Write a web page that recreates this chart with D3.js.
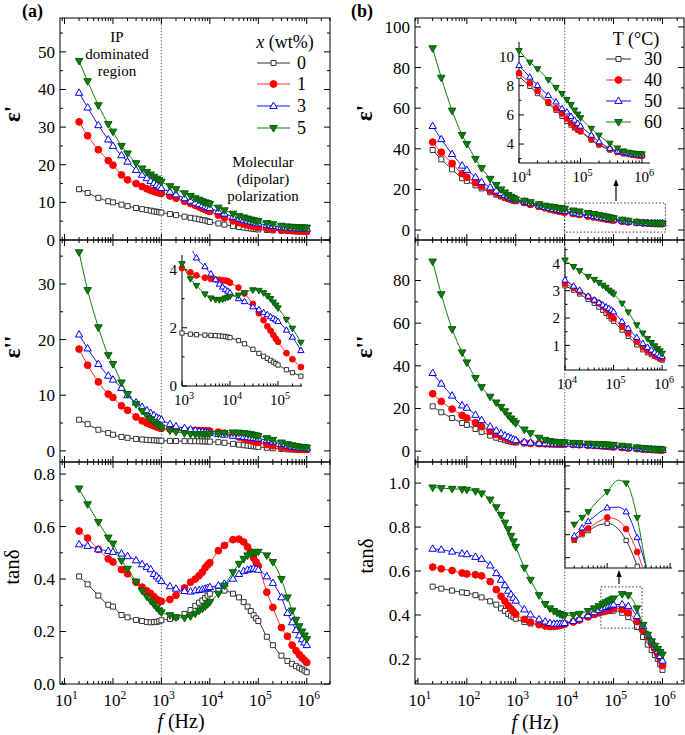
<!DOCTYPE html>
<html><head><meta charset="utf-8">
<script src="https://cdn.jsdelivr.net/npm/d3@7"></script>
<style>body{margin:0;background:#fff} svg{display:block} svg text{font-family:"Liberation Serif","Times New Roman",Times,serif;fill:#000}</style>
</head><body><svg id="c" width="685" height="735" font-family="Liberation Serif, Times New Roman, serif"></svg>
<script>
// ---------- DATA ----------
const freq = [20,30,50,80,100,150,200,300,400,500,600,700,800,900,1e3,1.5e3,2e3,3e3,4e3,5e3,6e3,7e3,8e3,9e3,1e4,1.5e4,2e4,3e4,4e4,5e4,6e4,7e4,8e4,9e4,1e5,1.5e5,2e5,3e5,4e5,5e5,6e5,7e5,8e5,9e5,1e6];
const legendA = ["0","1","3","5"];
const legendB = ["30","40","50","60"];
const xTickExp = [1,2,3,4,5,6];
const insetTanMarkFreq = [3e4,4e4,5e4,1e5,2e5,3e5,5e5,7e5];

// (a) eps' vs x (wt%)
const epsA0 = [13.5,12.5,11.2,10.3,10.0,9.4,9.0,8.5,8.2,8.0,7.8,7.6,7.5,7.4,7.3,6.9,6.6,6.2,5.9,5.7,5.5,5.3,5.2,5.0,4.8,4.4,4.1,3.7,3.45,3.3,3.15,3.05,2.95,2.88,2.8,2.65,2.55,2.45,2.4,2.35,2.3,2.28,2.25,2.22,2.2];
const epsA1 = [31.4,27.7,24.0,21.1,19.9,17.3,16.0,15.0,14.2,13.6,13.2,12.9,12.7,12.5,12.4,11.7,11.1,10.3,9.7,9.2,8.8,8.4,8.1,7.8,7.6,6.6,5.9,5.1,4.6,4.25,4.0,3.8,3.65,3.5,3.4,3.1,2.9,2.7,2.6,2.5,2.45,2.4,2.4,2.35,2.3];
const epsA3 = [39.1,35.2,30.5,26.7,25.0,22.5,20.8,18.6,17.3,16.4,15.7,15.1,14.6,14.2,13.8,12.8,12.1,11.1,10.4,9.9,9.5,9.2,8.9,8.7,8.5,7.6,7.0,6.2,5.7,5.35,5.1,4.9,4.7,4.55,4.4,4.0,3.7,3.4,3.25,3.15,3.1,3.05,3.0,3.0,3.0];
const epsA5 = [47.6,42.2,35.8,30.8,28.8,25.0,23.0,20.4,19.0,18.1,17.4,16.8,16.3,15.9,15.5,14.3,13.5,12.4,11.7,11.1,10.7,10.3,10.0,9.8,9.6,8.6,7.9,7.0,6.4,6.0,5.7,5.45,5.25,5.1,5.0,4.5,4.2,3.8,3.6,3.5,3.42,3.37,3.33,3.3,3.3];
// (a) eps''
const lossA0 = [5.6,4.8,3.8,3.2,2.9,2.5,2.35,2.15,2.05,1.98,1.93,1.9,1.87,1.85,1.82,1.78,1.76,1.75,1.74,1.73,1.72,1.71,1.7,1.68,1.66,1.56,1.45,1.26,1.12,1.02,0.95,0.88,0.82,0.77,0.72,0.56,0.46,0.34,0.28,0.24,0.21,0.19,0.17,0.16,0.15];
const lossA1 = [18.3,15.4,12.4,10.2,9.6,8.1,7.3,6.1,5.4,5.0,4.7,4.5,4.3,4.15,4.05,3.9,3.8,3.72,3.68,3.66,3.65,3.63,3.62,3.6,3.55,3.38,3.18,2.82,2.5,2.26,2.05,1.9,1.75,1.62,1.52,1.13,0.92,0.65,0.52,0.43,0.38,0.34,0.31,0.28,0.26];
const lossA3 = [20.9,18.4,15.6,13.5,12.8,11.3,10.0,8.7,7.9,7.3,6.8,6.4,6.0,5.8,5.6,4.8,4.4,4.1,3.85,3.65,3.5,3.4,3.32,3.26,3.2,3.0,2.9,2.72,2.62,2.52,2.45,2.38,2.32,2.27,2.22,1.92,1.68,1.22,0.95,0.78,0.67,0.58,0.52,0.47,0.42];
const lossA5 = [35.7,28.9,22.2,17.2,15.6,12.3,10.2,8.4,7.2,6.3,5.7,5.2,4.8,4.5,4.2,3.68,3.45,3.16,3.02,2.97,2.96,2.98,3.02,3.05,3.08,3.12,3.2,3.3,3.28,3.2,3.1,3.0,2.88,2.78,2.68,2.28,1.98,1.5,1.2,1.0,0.87,0.77,0.7,0.64,0.6];
// (a) tan delta
const tanA0 = [0.41,0.38,0.337,0.302,0.295,0.263,0.254,0.244,0.24,0.236,0.235,0.236,0.237,0.239,0.243,0.248,0.254,0.267,0.282,0.298,0.31,0.318,0.328,0.337,0.344,0.355,0.356,0.344,0.33,0.312,0.295,0.278,0.262,0.25,0.24,0.18,0.148,0.108,0.088,0.077,0.068,0.062,0.056,0.051,0.045];
const tanA1 = [0.583,0.556,0.513,0.477,0.465,0.436,0.42,0.388,0.369,0.355,0.345,0.333,0.322,0.317,0.315,0.322,0.338,0.366,0.388,0.40,0.413,0.426,0.443,0.454,0.462,0.508,0.528,0.55,0.552,0.541,0.522,0.503,0.48,0.465,0.45,0.35,0.292,0.215,0.182,0.148,0.127,0.112,0.1,0.091,0.082];
const tanA3 = [0.532,0.526,0.513,0.507,0.503,0.497,0.487,0.471,0.456,0.446,0.437,0.419,0.41,0.401,0.392,0.372,0.363,0.354,0.352,0.356,0.358,0.36,0.363,0.366,0.369,0.375,0.382,0.401,0.419,0.43,0.435,0.437,0.44,0.438,0.435,0.41,0.385,0.33,0.27,0.235,0.205,0.185,0.17,0.158,0.148];
const tanA5 = [0.745,0.685,0.617,0.558,0.535,0.47,0.439,0.39,0.355,0.333,0.317,0.303,0.291,0.28,0.273,0.262,0.254,0.252,0.258,0.268,0.279,0.287,0.296,0.304,0.312,0.344,0.375,0.426,0.458,0.477,0.49,0.496,0.501,0.503,0.504,0.49,0.465,0.40,0.33,0.28,0.245,0.22,0.2,0.185,0.171];

// (b) eps' vs T (°C)
const epsB30 = [39.4,34.8,29.9,25.5,24.2,22.0,20.5,18.6,17.4,16.5,15.8,15.3,14.9,14.5,14.2,13.3,12.5,11.4,10.7,10.1,9.7,9.4,9.1,8.85,8.65,7.96,7.46,6.78,6.32,5.9,5.55,5.3,5.1,4.95,4.84,4.27,3.93,3.59,3.42,3.33,3.28,3.24,3.21,3.19,3.18];
const epsB40 = [43.3,38.3,32.8,27.8,26.0,23.3,21.6,19.5,18.2,17.2,16.4,15.8,15.3,14.9,14.6,13.6,12.8,11.7,11.0,10.4,10.0,9.6,9.3,9.05,8.86,8.18,7.64,6.89,6.45,6.09,5.75,5.45,5.2,5.03,4.89,4.35,4.0,3.65,3.48,3.38,3.32,3.28,3.24,3.21,3.2];
const epsB50 = [51.2,44.7,37.4,31.7,29.6,26.0,23.6,21.0,19.4,18.2,17.3,16.6,16.0,15.5,15.1,14.0,13.2,12.1,11.4,10.9,10.5,10.1,9.8,9.55,9.39,8.59,8.02,7.34,6.89,6.43,6.2,5.9,5.64,5.42,5.23,4.61,4.16,3.71,3.52,3.42,3.36,3.31,3.28,3.26,3.25];
const epsB60 = [89.5,75.0,58.8,46.8,42.4,35.0,30.5,25.2,22.2,20.0,18.5,17.3,16.4,15.7,15.1,14.4,13.7,12.7,12.0,11.6,11.3,11.0,10.8,10.6,10.41,9.61,9.16,8.41,7.87,7.46,7.05,6.7,6.32,6.05,5.8,5.07,4.6,4.05,3.72,3.52,3.43,3.38,3.35,3.33,3.32];
// (b) eps''
const lossB30 = [21.0,18.2,15.5,13.2,12.3,10.4,9.0,7.3,6.3,5.6,5.1,4.75,4.45,4.2,4.0,3.6,3.45,3.35,3.3,3.28,3.26,3.24,3.22,3.2,3.18,3.02,2.88,2.68,2.54,2.4,2.28,2.17,2.06,1.97,1.88,1.56,1.33,1.02,0.84,0.73,0.66,0.6,0.55,0.5,0.46];
const lossB40 = [26.9,23.3,19.7,16.8,15.5,13.3,11.5,9.3,7.9,6.9,6.2,5.6,5.2,4.85,4.6,3.95,3.7,3.5,3.42,3.38,3.35,3.32,3.3,3.28,3.26,3.1,2.96,2.78,2.65,2.54,2.42,2.32,2.18,2.08,1.99,1.68,1.44,1.13,0.93,0.8,0.72,0.66,0.6,0.55,0.52];
const lossB50 = [36.6,31.6,26.0,21.4,20.3,17.0,14.5,11.5,9.6,8.3,7.3,6.6,6.0,5.5,5.1,4.3,3.95,3.7,3.6,3.55,3.5,3.47,3.45,3.42,3.39,3.17,3.02,2.8,2.66,2.56,2.48,2.41,2.35,2.29,2.23,1.87,1.62,1.29,1.07,0.93,0.83,0.75,0.69,0.63,0.59];
const lossB60 = [88.9,73.6,57.2,46.3,41.6,34.3,30.0,25.5,22.8,20.7,18.7,16.8,15.3,14.1,13.1,10.1,8.4,6.3,5.3,4.7,4.45,4.3,4.2,4.15,4.12,3.88,3.73,3.52,3.41,3.3,3.2,3.12,3.02,2.95,2.88,2.54,2.22,1.75,1.45,1.25,1.1,0.98,0.88,0.8,0.71];
// (b) tan delta
const tanB30 = [0.529,0.52,0.511,0.503,0.5,0.49,0.48,0.462,0.447,0.43,0.418,0.405,0.397,0.39,0.383,0.368,0.361,0.357,0.356,0.356,0.357,0.358,0.359,0.36,0.362,0.37,0.377,0.39,0.4,0.407,0.412,0.416,0.418,0.419,0.42,0.41,0.39,0.345,0.3,0.265,0.24,0.218,0.2,0.175,0.15];
const tanB40 = [0.618,0.61,0.602,0.591,0.587,0.583,0.578,0.552,0.515,0.485,0.463,0.443,0.428,0.415,0.404,0.38,0.368,0.356,0.35,0.347,0.348,0.35,0.352,0.355,0.358,0.368,0.377,0.392,0.403,0.411,0.417,0.422,0.425,0.428,0.43,0.425,0.41,0.37,0.33,0.3,0.27,0.245,0.222,0.2,0.17];
const tanB50 = [0.701,0.697,0.688,0.679,0.676,0.664,0.655,0.625,0.59,0.56,0.535,0.51,0.493,0.478,0.465,0.425,0.402,0.38,0.37,0.363,0.36,0.36,0.36,0.361,0.363,0.372,0.382,0.398,0.412,0.423,0.43,0.436,0.441,0.444,0.447,0.448,0.44,0.395,0.35,0.31,0.28,0.256,0.235,0.213,0.192];
const tanB60 = [0.98,0.977,0.974,0.972,0.97,0.963,0.953,0.925,0.89,0.855,0.82,0.79,0.76,0.735,0.71,0.615,0.56,0.49,0.45,0.43,0.418,0.41,0.404,0.4,0.398,0.4,0.405,0.418,0.43,0.44,0.45,0.458,0.465,0.47,0.475,0.495,0.49,0.43,0.355,0.31,0.28,0.26,0.245,0.232,0.22];

// ---------- STYLE ----------
const FONT = '"Liberation Serif","Times New Roman",serif';
const styles = [
  {line:"#333", stroke:"#333", fill:"#fff", shape:"square", s:5},
  {line:"#ff2a2a", stroke:"#ff0000", fill:"#ff0000", shape:"circle", s:6.8},
  {line:"#1010ff", stroke:"#0000ff", fill:"#fff", shape:"up", s:7.4},
  {line:"#0a820a", stroke:"#0a5a0a", fill:"#0a800a", shape:"down", s:7.6}
];
function symPath(shape, s, x, y){
  if(shape==="square") return `M${x-s/2},${y-s/2}h${s}v${s}h${-s}Z`;
  if(shape==="circle"){const r=s/2;return `M${x-r},${y}a${r},${r} 0 1,0 ${2*r},0a${r},${r} 0 1,0 ${-2*r},0Z`;}
  const h=s*0.866;
  if(shape==="up") return `M${x},${y-h*0.62}L${x+s/2},${y+h*0.38}L${x-s/2},${y+h*0.38}Z`;
  return `M${x},${y+h*0.62}L${x+s/2},${y-h*0.38}L${x-s/2},${y-h*0.38}Z`;
}

const svg = d3.select("#c");
const FS = 17;
function txt(parent){ return parent.append("text").attr("font-family",FONT); }

function drawSeries(g, x, y, arrays, xmin, xmax, scale, markFreq){
  arrays.forEach((arr,i)=>{
    const st = styles[i];
    const pts = freq.map((f,j)=>[f,arr[j]]).filter(p=>p[0]>=xmin && p[0]<=xmax);
    const line = d3.line().x(p=>x(p[0])).y(p=>y(p[1])).curve(d3.curveMonotoneX);
    g.append("path").attr("d",line(pts)).attr("fill","none").attr("stroke",st.line).attr("stroke-width",1);
    const mpts = markFreq ? pts.filter(p=>markFreq.includes(p[0])) : pts;
    g.append("g").selectAll("path").data(mpts).join("path")
      .attr("d",p=>symPath(st.shape, st.s*(scale||1), x(p[0]), y(p[1])))
      .attr("fill",st.fill).attr("stroke",st.stroke).attr("stroke-width",1);
  });
}

function logMinors(dom){
  const out=[];
  for(let e=-1;e<8;e++) for(let k=2;k<=9;k++){const v=k*Math.pow(10,e); if(v>dom[0]&&v<dom[1]) out.push(v);}
  return out;
}
function logMajors(dom){
  const out=[]; for(let e=-1;e<8;e++){const v=Math.pow(10,e); if(v>=dom[0]*0.999&&v<=dom[1]) out.push(v);} return out;
}
function expLabel(sel, e, fs){
  sel.append("tspan").text("10");
  sel.append("tspan").attr("dy", -fs*0.42).attr("font-size", fs*0.68).text(e);
}

const cols = {
  a:{x0:60, x1:330, dom:[Math.pow(10,0.907), Math.pow(10,6.48)], vline:1e3},
  b:{x0:415, x1:684, dom:[Math.pow(10,0.94), Math.pow(10,6.44)], vline:1e4}
};
const rows = [{y0:18,y1:240},{y0:240,y1:462},{y0:462,y1:684}];

const panels = [
  {c:"a", r:0, ydom:[0,59], maj:[0,10,20,30,40,50], min:[5,15,25,35,45,55], fmt:d3.format("d"), data:[epsA0,epsA1,epsA3,epsA5]},
  {c:"a", r:1, ydom:[-2,37.9], maj:[0,10,20,30], min:[5,15,25,35], fmt:d3.format("d"), data:[lossA0,lossA1,lossA3,lossA5]},
  {c:"a", r:2, ydom:[0,0.846], maj:[0,0.2,0.4,0.6,0.8], min:[0.1,0.3,0.5,0.7], fmt:d3.format(".1f"), data:[tanA0,tanA1,tanA3,tanA5]},
  {c:"b", r:0, ydom:[-4.9,104.4], maj:[0,20,40,60,80,100], min:[10,30,50,70,90], fmt:d3.format("d"), data:[epsB30,epsB40,epsB50,epsB60]},
  {c:"b", r:1, ydom:[-5.1,99], maj:[0,20,40,60,80], min:[10,30,50,70,90], fmt:d3.format("d"), data:[lossB30,lossB40,lossB50,lossB60]},
  {c:"b", r:2, ydom:[0.086,1.096], maj:[0.2,0.4,0.6,0.8,1.0], min:[0.1,0.3,0.5,0.7,0.9], fmt:d3.format(".1f"), data:[tanB30,tanB40,tanB50,tanB60]}
];

const scales = {};
Object.keys(cols).forEach(k=>{
  const c=cols[k]; const x=d3.scaleLog().domain(c.dom).range([c.x0,c.x1]);
  svg.append("line").attr("x1",x(c.vline)).attr("x2",x(c.vline)).attr("y1",18).attr("y2",684)
    .attr("stroke","#555").attr("stroke-width",1).attr("stroke-dasharray","1.2,2");
});

panels.forEach(p=>{
  const c=cols[p.c], rw=rows[p.r];
  const x=d3.scaleLog().domain(c.dom).range([c.x0,c.x1]);
  const y=d3.scaleLinear().domain(p.ydom).range([rw.y1,rw.y0]);
  scales[p.c+p.r]={x,y};
  const g=svg.append("g");
  const tk=g.append("g").attr("stroke","#000").attr("stroke-width",1);
  logMajors(c.dom).forEach(v=>{
    tk.append("line").attr("x1",x(v)).attr("x2",x(v)).attr("y1",rw.y1).attr("y2",rw.y1-6);
    tk.append("line").attr("x1",x(v)).attr("x2",x(v)).attr("y1",rw.y0).attr("y2",rw.y0+6);
  });
  logMinors(c.dom).forEach(v=>{
    tk.append("line").attr("x1",x(v)).attr("x2",x(v)).attr("y1",rw.y1).attr("y2",rw.y1-3);
    tk.append("line").attr("x1",x(v)).attr("x2",x(v)).attr("y1",rw.y0).attr("y2",rw.y0+3);
  });
  p.maj.forEach(v=>{
    tk.append("line").attr("x1",c.x0).attr("x2",c.x0+6).attr("y1",y(v)).attr("y2",y(v));
    tk.append("line").attr("x1",c.x1).attr("x2",c.x1-6).attr("y1",y(v)).attr("y2",y(v));
  });
  p.min.forEach(v=>{
    tk.append("line").attr("x1",c.x0).attr("x2",c.x0+3).attr("y1",y(v)).attr("y2",y(v));
    tk.append("line").attr("x1",c.x1).attr("x2",c.x1-3).attr("y1",y(v)).attr("y2",y(v));
  });
  g.append("rect").attr("x",c.x0).attr("y",rw.y0).attr("width",c.x1-c.x0).attr("height",rw.y1-rw.y0)
    .attr("fill","none").attr("stroke","#000").attr("stroke-width",1);
  p.maj.forEach(d=>{
    txt(g).attr("x",c.x0-5).attr("y",y(d)).attr("dy","0.35em").attr("text-anchor","end")
      .attr("font-size",FS).text(p.fmt(d));
  });
  if(p.r===2){
    xTickExp.forEach(e=>{
      const t=txt(g).attr("x",x(Math.pow(10,e))+2).attr("y",rw.y1+22).attr("text-anchor","middle").attr("font-size",FS);
      expLabel(t,e,FS);
    });
  }
  drawSeries(g,x,y,p.data,0,1e9);
});

function rotText(x,y,t,fs,bold){
  txt(svg).attr("transform",`translate(${x},${y}) rotate(-90)`).attr("text-anchor","middle")
    .attr("font-size",fs).attr("font-weight",bold?"bold":"normal").text(t);
}
rotText(20,114,"ε'",23,true); rotText(20,347,"ε''",23,true); rotText(19,567,"tanδ",21,false);
rotText(372,113,"ε'",23,true); rotText(372,347,"ε''",23,true); rotText(373,556,"tanδ",21,false);
[[181,728],[535,729]].forEach(([cx,by])=>{
  const t=txt(svg).attr("x",cx).attr("y",by).attr("text-anchor","middle").attr("font-size",20);
  t.append("tspan").attr("font-style","italic").text("f");
  t.append("tspan").text(" (Hz)");
});
txt(svg).attr("x",22).attr("y",17).attr("font-size",18).attr("font-weight","bold").text("(a)");
txt(svg).attr("x",351).attr("y",17).attr("font-size",18).attr("font-weight","bold").text("(b)");

[["IP",42],["dominated",59],["region",76]].forEach(([t,yy])=>
  txt(svg).attr("x",117).attr("y",yy).attr("text-anchor","middle").attr("font-size",15).text(t));
[["Molecular",167],["(dipolar)",184],["polarization",201]].forEach(([t,yy])=>
  txt(svg).attr("x",263).attr("y",yy).attr("text-anchor","middle").attr("font-size",15).text(t));

function legend(x0,x1,lx,ys,labels){
  labels.forEach((lab,i)=>{
    const st=styles[i];
    svg.append("line").attr("x1",x0).attr("x2",x1).attr("y1",ys[i]).attr("y2",ys[i]).attr("stroke",st.line).attr("stroke-width",1);
    svg.append("path").attr("d",symPath(st.shape,st.s,(x0+x1)/2,ys[i])).attr("fill",st.fill).attr("stroke",st.stroke);
    txt(svg).attr("x",lx).attr("y",ys[i]).attr("dy","0.35em").attr("font-size",18).text(lab);
  });
}
{
  const t=txt(svg).attr("x",285).attr("y",48).attr("text-anchor","middle").attr("font-size",18);
  t.append("tspan").attr("font-style","italic").text("x");
  t.append("tspan").text(" (wt%)");
}
legend(257,290,297,[63,84,106,128],legendA);
txt(svg).attr("x",636).attr("y",45).attr("text-anchor","middle").attr("font-size",18).text("T (°C)");
legend(606,631,644,[59,80,101,122],legendB);

// ---------- INSETS ----------
function inset(o){
  const x=d3.scaleLog().domain(o.xdom).range([o.x0,o.x1]);
  const y=d3.scaleLinear().domain(o.ydom).range([o.y1,o.y0]);
  const g=svg.append("g");
  const id="clip"+Math.round(o.x0)+"_"+Math.round(o.y0);
  svg.append("clipPath").attr("id",id).append("rect").attr("x",o.x0-4).attr("y",o.y0-4).attr("width",o.x1-o.x0+8).attr("height",o.y1-o.y0+4);
  const tk=g.append("g").attr("stroke","#000").attr("stroke-width",1);
  logMajors(o.xdom).forEach(v=>tk.append("line").attr("x1",x(v)).attr("x2",x(v)).attr("y1",o.y1).attr("y2",o.y1-5));
  logMinors(o.xdom).forEach(v=>tk.append("line").attr("x1",x(v)).attr("x2",x(v)).attr("y1",o.y1).attr("y2",o.y1-2.5));
  o.ymaj.forEach(v=>tk.append("line").attr("x1",o.x0).attr("x2",o.x0+5).attr("y1",y(v)).attr("y2",y(v)));
  (o.ymin||[]).forEach(v=>tk.append("line").attr("x1",o.x0).attr("x2",o.x0+2.5).attr("y1",y(v)).attr("y2",y(v)));
  g.append("path").attr("d",`M${o.x0},${o.y0}V${o.y1}H${o.x1}`).attr("fill","none").attr("stroke","#000").attr("stroke-width",1);
  if(o.ylab){
    o.ylab.forEach(v=>txt(g).attr("x",o.x0-5).attr("y",y(v)).attr("dy","0.35em").attr("text-anchor","end").attr("font-size",15).text(v));
  }
  if(o.xlab){
    o.xlab.forEach(e=>{const t=txt(g).attr("x",x(Math.pow(10,e))+2).attr("y",o.y1+19).attr("text-anchor","middle").attr("font-size",15); expLabel(t,e,15);});
  }
  const dg=g.append("g").attr("clip-path",`url(#${id})`);
  drawSeries(dg,x,y,o.data,o.xdom[0]*0.999,o.xdom[1],o.ms,o.mark);
}
inset({x0:182,x1:302,y0:255,y1:386,xdom:[1e3,Math.pow(10,5.5)],ydom:[0,4.5],ymaj:[0,2,4],ymin:[1,3],ylab:[0,2,4],xlab:[3,4,5],data:[lossA0,lossA1,lossA3,lossA5],ms:0.85});
inset({x0:519,x1:650,y0:42,y1:163,xdom:[1e4,Math.pow(10,6.13)],ydom:[2.7,11],ymaj:[4,6,8,10],ymin:[3,5,7,9],ylab:[4,6,8,10],xlab:[4,5,6],data:[epsB30,epsB40,epsB50,epsB60],ms:0.85});
inset({x0:565,x1:667,y0:247,y1:370,xdom:[1e4,Math.pow(10,6.1)],ydom:[0.1,4.6],ymaj:[1,2,3,4],ymin:[0.5,1.5,2.5,3.5,4.5],ylab:[1,2,3,4],xlab:[4,5,6],data:[lossB30,lossB40,lossB50,lossB60],ms:0.85});
inset({x0:565,x1:672,y0:463,y1:568,xdom:[Math.pow(10,4.33),Math.pow(10,6.03)],ydom:[0.342,0.525],ymaj:[0.36,0.40,0.44,0.48,0.52],ymin:[],data:[tanB30,tanB40,tanB50,tanB60],ms:0.85,mark:insetTanMarkFreq});

function zoomBox(f0,f1,v0,v1,key,ax,ayFrom,ayTo){
  const {x,y}=scales[key];
  svg.append("rect").attr("x",x(f0)).attr("y",y(v1)).attr("width",x(f1)-x(f0)).attr("height",y(v0)-y(v1))
    .attr("fill","none").attr("stroke","#333").attr("stroke-width",1).attr("stroke-dasharray","1.5,2");
  svg.append("line").attr("x1",ax).attr("x2",ax).attr("y1",ayFrom).attr("y2",ayTo+5).attr("stroke","#000").attr("stroke-width",1.2);
  svg.append("path").attr("d",`M${ax},${ayTo}L${ax+2.6},${ayTo+7}L${ax-2.6},${ayTo+7}Z`).attr("fill","#000");
}
zoomBox(1e4,Math.pow(10,6.06),-1,13.3,"b0",616,201,179);
zoomBox(Math.pow(10,4.74),Math.pow(10,5.58),0.34,0.528,"b2",619,584,570);
</script></body></html>
